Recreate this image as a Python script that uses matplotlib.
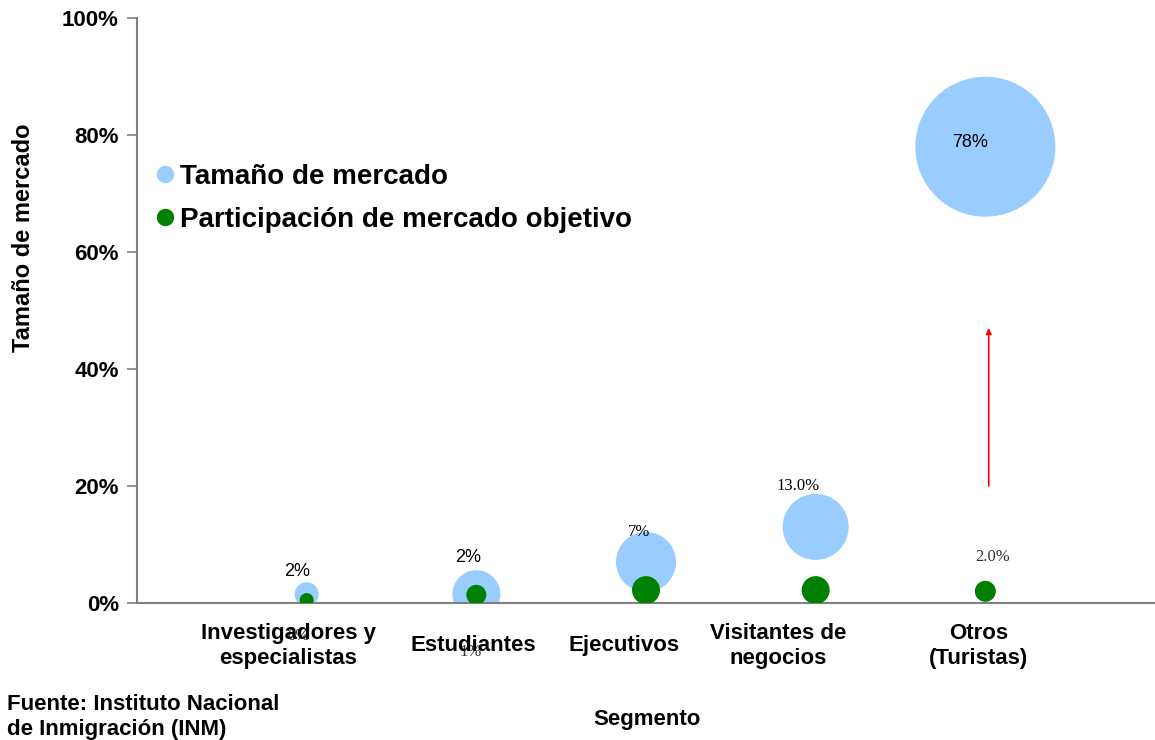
import matplotlib.pyplot as plt
from matplotlib.lines import Line2D

plt.rcParams['font.family'] = ['Liberation Sans', 'DejaVu Sans']

# Segmentos y valores (%)
segmentos = ['Investigadores y\nespecialistas', 'Estudiantes', 'Ejecutivos',
             'Visitantes de\nnegocios', 'Otros\n(Turistas)']
tamano = [1.5, 1.5, 7, 13, 78]            # Tamaño de mercado
tamano_fmt = ['{:.0f}%', '{:.0f}%', '{:.0f}%', '{:.1f}%', '{:.0f}%']
burbuja_tamano = [12, 24, 30, 33, 70]    # radio de burbuja (px)
participacion = [0.5, 1.4, 2.2, 2.2, 2.0]  # Participación de mercado objetivo
burbuja_part = [7, 10, 14, 14, 10.5]
flecha = (20, 47)                        # flecha de crecimiento en "Otros"

xpos = list(range(1, len(segmentos) + 1))
etiqueta_x = [0.89, 1.98, 2.87, 3.78, 4.96]

AZUL = '#99CCFF'
VERDE = '#008000'
PX = 72 / 100  # puntos por pixel


def area(r):
    return (2 * r * PX) ** 2


fig = plt.figure(figsize=(11.55, 7.4), dpi=100)
ax = fig.add_axes([137 / 1155, 137 / 740, 1 - 137 / 1155, 585 / 740])

ax.scatter(xpos, tamano, s=[area(r) for r in burbuja_tamano], color=AZUL,
           linewidths=0, zorder=2)
ax.scatter(xpos, participacion, s=[area(r) for r in burbuja_part], color=VERDE,
           linewidths=0, zorder=3)

ax.set_xlim(0, 6)
ax.set_ylim(0, 100)
ax.set_yticks(range(0, 101, 20))
ax.set_yticklabels([f'{v}%' for v in range(0, 101, 20)], fontsize=16,
                   fontweight='bold')
ax.set_xticks([])
ax.tick_params(axis='y', direction='out', length=7, width=1.2, color='#808080',
               pad=6)
for s in ('top', 'right'):
    ax.spines[s].set_visible(False)
for s in ('left', 'bottom'):
    ax.spines[s].set_color('#808080')
    ax.spines[s].set_linewidth(1.5)

# Etiquetas de datos
desp_azul = [(-10, 23), (-8, 37), (-7, 30), (-18, 41), (-15, 4)]
for i, (x, v) in enumerate(zip(xpos, tamano)):
    serif = i in (2, 3)
    ax.annotate(tamano_fmt[i].format(v), (x, v),
                xytext=(desp_azul[i][0] * PX, desp_azul[i][1] * PX),
                textcoords='offset points', ha='center', va='center',
                fontsize=12 if serif else 13,
                family='Liberation Serif' if serif else 'Liberation Sans',
                zorder=5, annotation_clip=False)

# etiquetas de participación (las dos primeras quedan tras los rótulos)
desp_verde = {0: (-8, -36), 1: (-6, -57), 4: (7, 34)}
fmt_verde = {0: '{:.0f}%', 1: '{:.0f}%', 4: '{:.1f}%'}
for i, (dx, dy) in desp_verde.items():
    ax.annotate(fmt_verde[i].format(participacion[i]), (xpos[i], participacion[i]),
                xytext=(dx * PX, dy * PX), textcoords='offset points',
                ha='center', va='center', fontsize=12,
                family='Liberation Serif', color='#333333',
                zorder=1, annotation_clip=False)

# Rótulos de segmento
for x, t in zip(etiqueta_x, segmentos):
    ax.text(x, -0.0735, t, transform=ax.get_xaxis_transform(), ha='center',
            va='center', fontsize=16, fontweight='bold', linespacing=1.3,
            zorder=6)

ax.annotate('', xy=(5.02, flecha[1]), xytext=(5.02, flecha[0]),
            arrowprops=dict(arrowstyle='-|>', color='red', lw=1.2,
                            mutation_scale=8, shrinkA=0, shrinkB=0))

ax.set_ylabel('Tamaño de mercado', fontsize=17, fontweight='bold')
ax.yaxis.set_label_coords(-0.1, 0.624)
fig.text(647 / 1155, 1 - 720 / 740, 'Segmento', ha='center', va='center',
         fontsize=16, fontweight='bold')
fig.text(7 / 1155, 1 - 717 / 740, 'Fuente: Instituto Nacional\nde Inmigración (INM)',
         ha='left', va='center', fontsize=16, fontweight='bold', linespacing=1.3)

handles = [Line2D([], [], marker='o', ls='none', color=AZUL, markersize=12.5,
                  markeredgewidth=0, label='Tamaño de mercado'),
           Line2D([], [], marker='o', ls='none', color=VERDE, markersize=12.5,
                  markeredgewidth=0, label='Participación de mercado objetivo')]
ax.legend(handles=handles, loc='upper left', bbox_to_anchor=(143 / 1155, 1 - 150 / 740),
          bbox_transform=fig.transFigure, frameon=False, handlelength=0.6,
          handletextpad=0.25, borderpad=0, labelspacing=0.62,
          prop=dict(size=20, weight='bold'))

fig.savefig('out.png', dpi=100)
